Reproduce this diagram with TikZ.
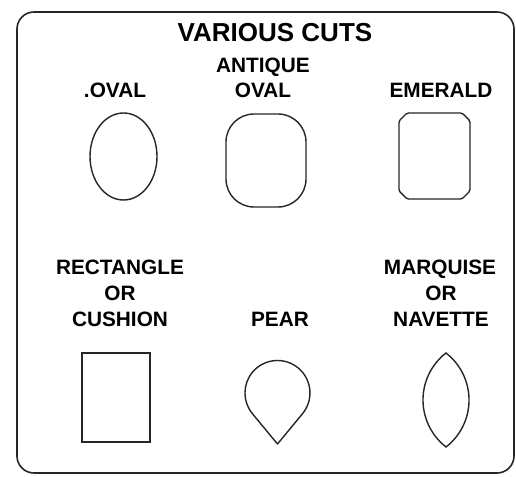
\documentclass[tikz,border=0pt]{standalone}
\usepackage{fontspec}
\setmainfont{Liberation Sans}
\begin{document}
\begin{tikzpicture}[x=1pt,y=1pt,
  lbl/.style={anchor=base,inner sep=0pt,font=\fontsize{20.8}{24}\selectfont\bfseries},
  ttl/.style={anchor=base,inner sep=0pt,font=\fontsize{26}{30}\selectfont\bfseries},
  cut/.style={draw=black!85,line width=1.4pt},
  frame/.style={draw=black!85,line width=1.6pt,rounded corners=17pt}]
\useasboundingbox (0,0) rectangle (516,476);
\fill[white] (0,0) rectangle (516,476);
% frame
\draw[frame] (17,3) rectangle (514,464);
% title
\node[ttl] (title) at (275,434) {VARIOUS CUTS};
% top row labels
\node[lbl] (lova) at (115,378) {.OVAL};
\node[lbl] (lant1) at (263,403) {ANTIQUE};
\node[lbl] (lant2) at (263,378) {OVAL};
\node[lbl] (lem) at (441,378) {EMERALD};
% bottom row labels
\node[lbl] (lrec1) at (120,201) {RECTANGLE};
\node[lbl] (lrec2) at (120,175.5) {OR};
\node[lbl] (lrec3) at (120,149.5) {CUSHION};
\node[lbl] (lpear) at (280,149) {PEAR};
\node[lbl] (lmq1) at (440,201) {MARQUISE};
\node[lbl] (lmq2) at (441,175.5) {OR};
\node[lbl] (lmq3) at (441,149.5) {NAVETTE};
% oval
\draw[cut] (123.5,319.5) ellipse[x radius=33.5,y radius=43.5];
% antique oval
\draw[cut,rounded corners=28pt] (226,269) rectangle (306,362);
% emerald
\draw[cut,rounded corners=1.5pt] (407,363) -- (462,363) -- (470,355) -- (470,285) -- (462,277)
  -- (407,277) -- (399,285) -- (399,355) -- cycle;
% rectangle / cushion
\draw[cut] (82,34) rectangle (150,123);
% pear
\draw[cut,line join=round] (277.5,32) -- (302.5,62.3) arc[start angle=-39.6,end angle=219.6,radius=32.5] -- cycle;
% marquise
\draw[cut] (446,29) arc[start angle=-52.2,end angle=52.2,radius=59.5]
  arc[start angle=127.8,end angle=232.2,radius=59.5] -- cycle;
\end{tikzpicture}
\end{document}
